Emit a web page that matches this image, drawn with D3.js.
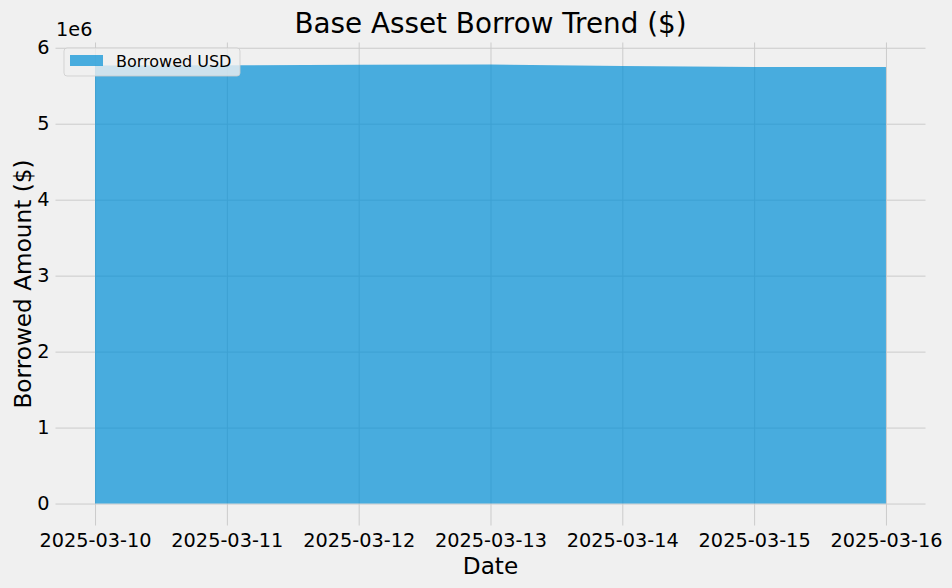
<!DOCTYPE html>
<html>
<head>
<meta charset="utf-8">
<script src="https://cdn.jsdelivr.net/npm/d3@7"></script>
<style>
  html, body { margin: 0; padding: 0; background: #f0f0f0; }
  svg { display: block; font-family: "DejaVu Sans", sans-serif; }
</style>
</head>
<body>
<svg id="chart" width="952" height="588"></svg>
<script>
// ---- data ----
const dates = ["2025-03-10", "2025-03-11", "2025-03-12", "2025-03-13", "2025-03-14", "2025-03-15", "2025-03-16"];
const borrowedUSD = [5765000, 5768000, 5776000, 5780000, 5760000, 5745000, 5745000];
const yTicks = [0, 1, 2, 3, 4, 5, 6];
const title = "Base Asset Borrow Trend ($)";
const xLabel = "Date";
const yLabel = "Borrowed Amount ($)";
const seriesName = "Borrowed USD";

const W = 952, H = 588;
const margin = { left: 55.5, right: 952 - 925.5, top: 42.5, bottom: 588 - 525.5 };
const svg = d3.select("#chart");
svg.append("rect").attr("width", W).attr("height", H).attr("fill", "#f0f0f0");

const parse = d3.timeParse("%Y-%m-%d");
const data = dates.map((d, i) => ({ date: parse(d), v: borrowedUSD[i] }));

const x0 = data[0].date, x1 = data[data.length - 1].date;
const span = x1 - x0;
const x = d3.scaleTime()
  .domain([new Date(+x0 - span * 0.05), new Date(+x1 + span * 0.05)])
  .range([margin.left, W - margin.right]);

const ymax = d3.max(borrowedUSD);
const y = d3.scaleLinear()
  .domain([-ymax * 0.05, ymax * 1.05])
  .range([H - margin.bottom, margin.top]);

const g = svg.append("g");

// grid + y axis
const yAxis = d3.axisLeft(y)
  .tickValues(yTicks.map(t => t * 1e6))
  .tickFormat(d => String(d / 1e6))
  .tickSize(-(W - margin.left - margin.right))
  .tickPadding(8);
const yg = g.append("g").attr("transform", `translate(${margin.left},0)`).call(yAxis);
yg.select(".domain").remove();
yg.selectAll(".tick line").attr("stroke", "#cbcbcb").attr("stroke-width", 1);
yg.selectAll(".tick text").attr("font-size", "19.3px").attr("fill", "#000")
  .attr("font-family", "DejaVu Sans").attr("x", -6);

const xAxis = d3.axisBottom(x)
  .tickValues(data.map(d => d.date))
  .tickFormat(d3.timeFormat("%Y-%m-%d"))
  .tickSize(-(H - margin.top - margin.bottom))
  .tickPadding(8);
const xg = g.append("g").attr("transform", `translate(0,${H - margin.bottom})`).call(xAxis);
xg.select(".domain").remove();
xg.selectAll(".tick line").attr("stroke", "#cbcbcb").attr("stroke-width", 1);
xg.selectAll(".tick text").attr("font-size", "19.3px").attr("fill", "#000")
  .attr("font-family", "DejaVu Sans");

// area
const area = d3.area()
  .x(d => x(d.date))
  .y0(y(0))
  .y1(d => y(d.v));
g.append("path").datum(data)
  .attr("d", area)
  .attr("fill", "#008fd5")
  .attr("fill-opacity", 0.7);

// offset text
svg.append("text").attr("x", 56).attr("y", 36)
  .attr("font-size", "19.3px").text("1e6");

// title
svg.append("text").attr("x", (margin.left + W - margin.right) / 2).attr("y", 33)
  .attr("text-anchor", "middle").attr("font-size", "27.8px").text(title);

// x label
svg.append("text").attr("x", (margin.left + W - margin.right) / 2).attr("y", 574)
  .attr("text-anchor", "middle").attr("font-size", "23.2px").text(xLabel);

// y label
const ymid = (margin.top + H - margin.bottom) / 2;
svg.append("text")
  .attr("transform", `translate(31,${ymid}) rotate(-90)`)
  .attr("text-anchor", "middle").attr("font-size", "23.2px").text(yLabel);

// legend
const lg = svg.append("g");
lg.append("rect").attr("x", 64).attr("y", 48).attr("width", 176).attr("height", 28)
  .attr("rx", 3).attr("fill", "#f0f0f0").attr("fill-opacity", 0.8)
  .attr("stroke", "#cccccc").attr("stroke-opacity", 0.8).attr("stroke-width", 1);
lg.append("rect").attr("x", 70).attr("y", 55).attr("width", 33).attr("height", 11)
  .attr("fill", "#008fd5").attr("fill-opacity", 0.7);
lg.append("text").attr("x", 116).attr("y", 67).attr("font-size", "16px").text(seriesName);
</script>
</body>
</html>
